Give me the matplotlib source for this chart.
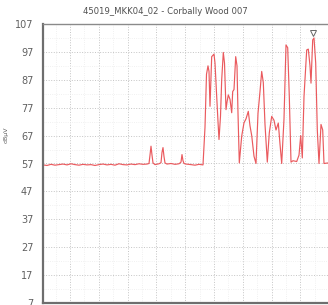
import numpy as np
import matplotlib
matplotlib.use('Agg')
import matplotlib.pyplot as plt

# trace (channel, level in dBuV)
base_x = [0, 4, 8, 12, 16, 20, 24, 28, 32, 36, 40, 44, 48, 52, 56, 60, 64, 68, 72, 76,
          80, 84, 88, 92, 96, 100, 104, 106, 107, 108, 109, 110, 112, 116, 118, 119, 120,
          121, 122, 124, 128, 132, 136, 138, 139, 140, 141, 143, 148, 152, 156, 160]
base_y = [56.5, 56.3, 56.7, 56.4, 56.6, 56.8, 56.5, 56.9, 56.6, 56.4, 56.7, 56.5, 56.6,
          56.3, 56.6, 56.8, 56.5, 56.7, 56.4, 56.9, 56.6, 56.5, 56.8, 56.6, 56.9, 56.7,
          56.8, 57.0, 60, 63.2, 60, 57.2, 56.6, 56.9, 57.3, 61, 62.7, 59.5, 57.2, 56.8,
          57, 56.7, 56.9, 57.5, 60.2, 58, 57, 56.8, 56.6, 56.4, 56.7, 56.5]
busy_x = [162, 163.5, 165, 166, 167, 168.7, 171, 172, 173.7, 175, 176, 177.5, 178.7, 180.3,
          181.5, 183, 184, 185.3, 187, 188.7, 189.7, 191, 192.7, 194, 195, 196.3, 198.7,
          201, 203, 205.3, 207, 208.7, 211, 213, 215, 217, 218.7, 220.3, 222, 224.3, 226.3,
          228.7, 231, 233, 235.3, 237, 238.7, 241, 243, 244.7, 246.3, 248, 250, 253.7, 256,
          257.7, 259.3, 261, 263.7, 265.3, 267, 268, 269.7, 271, 272.7, 274.3, 276, 278,
          279.7, 281, 285, 288]
busy_y = [70, 89, 92, 90, 77.5, 95.3, 96.2, 93, 81, 72, 65.6, 74, 87, 96.8, 93, 76.3, 79,
          81.6, 80, 75.2, 82.8, 83.5, 95.3, 92, 75, 57.2, 66.8, 71.6, 73, 75.7, 70.5, 67,
          59.6, 57, 75, 82.8, 90, 86, 71, 57.5, 68, 73.9, 72.5, 69, 71.5, 64, 57, 73, 99.5,
          98.5, 81, 57.5, 58, 57.7, 60, 67, 59, 81, 97.7, 98, 92, 85.8, 101.3, 102, 93, 69,
          57, 71, 69, 57, 57.2, 57]
peak_x = 270
peak_y = 103.8

x = np.array(base_x + busy_x)
y = np.array(base_y + busy_y)

fig = plt.figure(figsize=(3.28, 3.05), dpi=100)
ax = fig.add_axes([43/328, 1-303/305, 288/328, 279/305])

ax.plot(x, y, color='#ea5a5e', lw=0.85)
ax.plot([peak_x], [peak_y], marker='v', ms=4, mfc='white', mec='#666666', mew=0.7)

ax.set_xlim(0, 288)
ax.set_ylim(7, 107)
ax.set_yticks(np.arange(7, 108, 10))
ax.set_xticks(np.arange(27, 288, 28.8))
ax.set_xticks(np.arange(12.6, 288, 28.8), minor=True)
ax.set_yticks(np.arange(12, 108, 10), minor=True)
ax.set_xticklabels([])
ax.tick_params(axis='both', which='both', length=0)
ax.tick_params(axis='y', labelsize=7, labelcolor='#606060', pad=7)

ax.grid(True, which='major', color='#c4c4c4', lw=0.7, ls=':')
ax.grid(True, which='minor', color='#ececec', lw=0.6, ls=':')
ax.set_axisbelow(True)

for s in ['left', 'bottom']:
    ax.spines[s].set_color('#6e6e6e')
    ax.spines[s].set_linewidth(1.6)
ax.spines['top'].set_color('#8a8a8a')
ax.spines['top'].set_linewidth(1.0)
ax.spines['right'].set_visible(False)

fig.text(165/328, 1-11/305, '45019_MKK04_02 - Corbally Wood 007', ha='center', va='center',
         fontsize=6.1, color='#505050')
fig.text(6/328, 1-135/305, 'dBµV', rotation=90, ha='center', va='center',
         fontsize=4.5, color='#606060')

fig.savefig('out.png', dpi=100)
